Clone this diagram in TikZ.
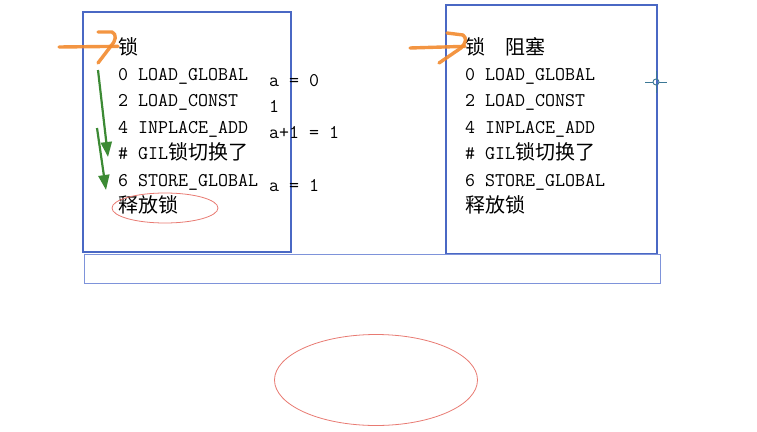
\documentclass[tikz,border=0pt]{standalone}
\usepackage{fontspec}
\newfontfamily\cjk{Noto Sans CJK SC}
\usetikzlibrary{arrows.meta,positioning,shapes.geometric}
\definecolor{boxblue}{HTML}{4A68C4}
\definecolor{barblue}{HTML}{7E93DA}
\definecolor{hookorange}{HTML}{F28A2E}
\definecolor{flowgreen}{HTML}{3C8A34}
\definecolor{ringred}{HTML}{E87A72}
\definecolor{cursorteal}{HTML}{3C7896}
\newcommand{\zh}[1]{{\cjk\fontsize{20}{26}\selectfont #1}}

\begin{document}
\begin{tikzpicture}[
    x=1pt, y=-1pt,
    codebox/.style={
        rectangle,
        draw=boxblue,
        line width=1.2pt,
        inner sep=0pt
    },
    barbox/.style={
        rectangle,
        draw=barblue,
        line width=1pt,
        inner sep=0pt
    },
    codeline/.style={
        anchor=base west,
        inner sep=0pt,
        font=\ttfamily\fontsize{19.4}{26}\selectfont
    },
    ring/.style={
        ellipse,
        draw=ringred,
        line width=0.8pt,
        inner sep=0pt
    },
    hook/.style={hookorange, line width=3.4pt, line cap=round, line join=round, opacity=0.9},
    flowarrow/.style={flowgreen, line width=2.2pt, -{Triangle[length=15pt,width=11pt]}}
]
\useasboundingbox (0,0) rectangle (757,431);
% boxes
\node (leftbox) [codebox, minimum width=208pt, minimum height=240pt] at (187,132) {};
\node (rightbox) [codebox, minimum width=211pt, minimum height=249pt] at (551.5,129.5) {};
\node (basebar) [barbox, minimum width=576pt, minimum height=29pt] at (372,268.5) {};
% left thread
\foreach \t [count=\i] in {\zh{锁}, 0 LOAD\_GLOBAL, 2 LOAD\_CONST, 4 INPLACE\_ADD,
    \# GIL\zh{锁切换了}, 6 STORE\_GLOBAL, \zh{释放锁}}
    \node (L\i) [codeline] at (118,{54+26.4*(\i-1)}) {\t};
% values
\node (v1) [codeline] at (269,86) {a = 0};
\node (v2) [codeline] at (269,112) {1};
\node (v3) [codeline] at (269,138) {a+1 = 1};
\node (v4) [codeline] at (269,191) {a = 1};
% right thread
\foreach \t [count=\i] in {\zh{锁　阻塞}, 0 LOAD\_GLOBAL, 2 LOAD\_CONST, 4 INPLACE\_ADD,
    \# GIL\zh{锁切换了}, 6 STORE\_GLOBAL, \zh{释放锁}}
    \node (R\i) [codeline] at (465,{54+26.4*(\i-1)}) {\t};
% rings
\node (release) [ring, minimum width=106pt, minimum height=30pt] at (165,208) {};
\node (pool) [ring, minimum width=203pt, minimum height=91pt] at (376,380) {};
% orange hooks
\coordinate (lstart) at (59,47);
\coordinate (rstart) at (410,48);
\draw [hook] (lstart) -- (L1.west);
\draw [hook] (98,32) -- (112,32) .. controls (117,34) and (116,41) .. (111,46) -- (98,63);
\draw [hook] (rstart) -- (R1.west);
\draw [hook] (447,33) -- (463,35) .. controls (467,38) and (466,43) .. (461,48) -- (439,63);
% green flow
\coordinate (g1a) at (98,70);
\coordinate (g1b) at (108,157);
\coordinate (g2a) at (97,128);
\coordinate (g2b) at (106,190);
\draw [flowarrow] (g1a) -- (g1b);
\draw [flowarrow] (g2a) -- (g2b);
% cursor
\coordinate (cur) at (656,82);
\draw [cursorteal, line width=0.9pt] (cur) ++(-11,0) -- ++(8,0) (cur) ++(3,0) -- ++(8,0)
    (cur) ++(0,-11) -- ++(0,8) (cur) ++(0,3) -- ++(0,8);
\draw [cursorteal, line width=0.9pt] (cur) circle (3);
\end{tikzpicture}
\end{document}
